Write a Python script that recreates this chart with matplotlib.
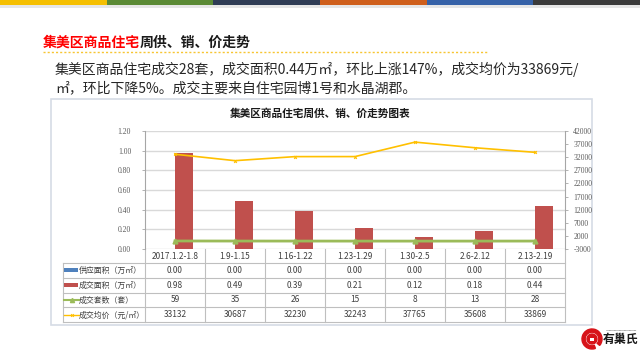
import matplotlib
matplotlib.use("Agg")
import matplotlib.pyplot as plt
import matplotlib.patches as patches
import matplotlib.transforms as mtransforms

plt.rcParams['font.family'] = ['Noto Sans CJK SC', 'DejaVu Sans']

# data
categories = ['2017.1.2-1.8', '1.9-1.15', '1.16-1.22', '1.23-1.29',
              '1.30-2.5', '2.6-2.12', '2.13-2.19']
supply_area = [0.00, 0.00, 0.00, 0.00, 0.00, 0.00, 0.00]
deal_area = [0.98, 0.49, 0.39, 0.21, 0.12, 0.18, 0.44]
deal_units = [59, 35, 26, 15, 8, 13, 28]
avg_price = [33132, 30687, 32230, 32243, 37765, 35608, 33869]
row_labels = ['供应面积（万㎡）', '成交面积（万㎡）', '成交套数（套）', '成交均价（元/㎡）']
left_ticks = [0.0, 0.2, 0.4, 0.6, 0.8, 1.0, 1.2]
right_ticks = [-3000, 2000, 7000, 12000, 17000, 22000, 27000, 32000, 37000, 42000]

BLUE = '#4F81BD'
RED = '#C0504D'
GREEN = '#9BBB59'
YELLOW = '#FFC000'
GRID = '#D9D9D9'
TXT = '#404040'

W, H = 640, 355
fig = plt.figure(figsize=(6.4, 3.55), dpi=100)

# background axes in pixel units for the slide decoration
bg = fig.add_axes([0, 0, 1, 1])
bg.set_xlim(0, W)
bg.set_ylim(H, 0)
bg.axis('off')

# coloured strip at the top
strip_colors = ['#F5BF00', '#5B8A35', '#2F3C55', '#CF5F1C', '#3662A8', '#3B3B3B']
for i, c in enumerate(strip_colors):
    bg.add_patch(patches.Rectangle((i * W / 6, 0), W / 6, 5, color=c, lw=0))
bg.add_patch(patches.Rectangle((0, 5), W, 2.5, color='#E6E6E6', lw=0))

# heading
t1 = bg.text(43, 43, '集美区商品住宅', color='#FF0000', fontsize=10,
             fontweight='bold', va='center', ha='left')
fig.canvas.draw()
ext = t1.get_window_extent()
x_end = ext.x1 / fig.dpi * 100
bg.text(x_end, 43, '周供、销、价走势', color='#1A1A1A', fontsize=10,
        fontweight='bold', va='center', ha='left')
bg.plot([43, 487], [52, 52], color='#F7C531', lw=1, ls=(0, (1.5, 1.5)))

bg.text(55, 69, '集美区商品住宅成交28套，成交面积0.44万㎡，环比上涨147%，成交均价为33869元/',
        fontsize=10, color='#262626', va='center', ha='left')
bg.text(55, 88, '㎡，环比下降5%。成交主要来自住宅园博1号和水晶湖郡。',
        fontsize=10, color='#262626', va='center', ha='left')

# chart frame
bg.add_patch(patches.Rectangle((51, 99), 541, 226, fill=False,
                               ec='#D6DCE5', lw=1.2))
bg.text(320, 114, '集美区商品住宅周供、销、价走势图表', fontsize=7.7,
        fontweight='bold', color='#1A1A1A', ha='center', va='center')

# main chart axes
ax = fig.add_axes([145 / W, (H - 249) / H, 420 / W, 118 / H])
x = list(range(len(categories)))
bw = 0.3
ax.bar([i - bw / 2 for i in x], supply_area, width=bw, color=BLUE, zorder=3)
ax.bar([i + bw / 2 for i in x], deal_area, width=bw, color=RED, zorder=3)
ax.set_xlim(-0.5, len(categories) - 0.5)
ax.set_ylim(0, 1.2)
ax.set_yticks(left_ticks)
ax.set_yticklabels(['%.2f' % v for v in left_ticks])
ax.set_xticks([])
ax.grid(axis='y', color=GRID, lw=1, zorder=0)
for s in ['top', 'right', 'bottom']:
    ax.spines[s].set_visible(False)
ax.spines['left'].set_color('#A6A6A6')
ax.spines['left'].set_linewidth(0.8)
ax.tick_params(axis='y', length=2, width=0.6, color='#A6A6A6', pad=8,
               labelsize=5.5, labelcolor='#595959')
for lab in ax.get_yticklabels():
    lab.set_family('Liberation Serif')
ax.set_facecolor('none')

ax2 = ax.twinx()
ax2.plot(x, deal_units, color=GREEN, lw=2, marker='^', ms=3.5, zorder=4)
ax2.plot(x, avg_price, color=YELLOW, lw=1.2, marker='x', ms=2, mew=0.8, zorder=4)
ax2.set_ylim(-3000, 42000)
ax2.set_yticks(right_ticks)
ax2.set_yticklabels([str(v) for v in right_ticks])
for s in ['top', 'left', 'bottom']:
    ax2.spines[s].set_visible(False)
ax2.spines['right'].set_color('#A6A6A6')
ax2.spines['right'].set_linewidth(0.8)
ax2.tick_params(axis='y', length=2, width=0.6, color='#A6A6A6', pad=4,
                labelsize=5.5, labelcolor='#595959')
for lab in ax2.get_yticklabels():
    lab.set_family('Liberation Serif')

# data table under the chart (x in category units, y in pixels)
tr = mtransforms.blended_transform_factory(ax.transData, bg.transData)
row_lines = [262.5, 277.7, 292.5, 307.3, 322.3]
line_c = '#BFBFBF'
for k in range(len(categories) + 1):
    bg.plot([k - 0.5, k - 0.5], [249, 322.3], color=line_c, lw=0.8,
            transform=tr, zorder=1)
for y in row_lines:
    bg.plot([63, 565], [y, y], color=line_c, lw=0.8, zorder=1)
bg.plot([63, 63], [262.5, 322.3], color=line_c, lw=0.8, zorder=1)

for i, c in enumerate(categories):
    bg.text(i, 256.5, c, transform=tr, ha='center', va='center',
            fontsize=6, color=TXT)

rows = [['%.2f' % v for v in supply_area],
        ['%.2f' % v for v in deal_area],
        [str(v) for v in deal_units],
        [str(v) for v in avg_price]]
for r, vals in enumerate(rows):
    yc = (row_lines[r] + row_lines[r + 1]) / 2
    for i, v in enumerate(vals):
        bg.text(i, yc, v, transform=tr, ha='center', va='center',
                fontsize=6, color=TXT)
    bg.text(79, yc, row_labels[r], ha='left', va='center', fontsize=5.7,
            color=TXT)

# legend keys inside the label column
yc = [(row_lines[r] + row_lines[r + 1]) / 2 for r in range(4)]
bg.add_patch(patches.Rectangle((64, yc[0] - 2.5), 14, 4, color=BLUE, lw=0))
bg.add_patch(patches.Rectangle((64, yc[1] - 2.5), 14, 4, color=RED, lw=0))
bg.plot([64, 79], [yc[2], yc[2]], color=GREEN, lw=1.5)
bg.plot([71.5], [yc[2]], marker='^', color=GREEN, ms=3)
bg.plot([64, 79], [yc[3], yc[3]], color=YELLOW, lw=1)
bg.plot([71.5], [yc[3]], marker='x', color=YELLOW, ms=2, mew=0.7)

# logo
bg.add_patch(patches.Wedge((592, 339), 10, 70, 400, width=3.2, color='#D7141A'))
bg.add_patch(patches.Circle((592, 339), 5, color='#D7141A'))
bg.add_patch(patches.Rectangle((590.3, 337.5), 3.2, 3.2, color='white', lw=0))
bg.text(603, 339.5, '有巢氏', fontsize=8.6, fontweight='bold', color='#1A1A1A',
        ha='left', va='center')
bg.plot([606, 636], [329.5, 329.5], color='#888888', lw=0.6, ls=(0, (1, 0.5)))

fig.savefig('out.png', dpi=100)
